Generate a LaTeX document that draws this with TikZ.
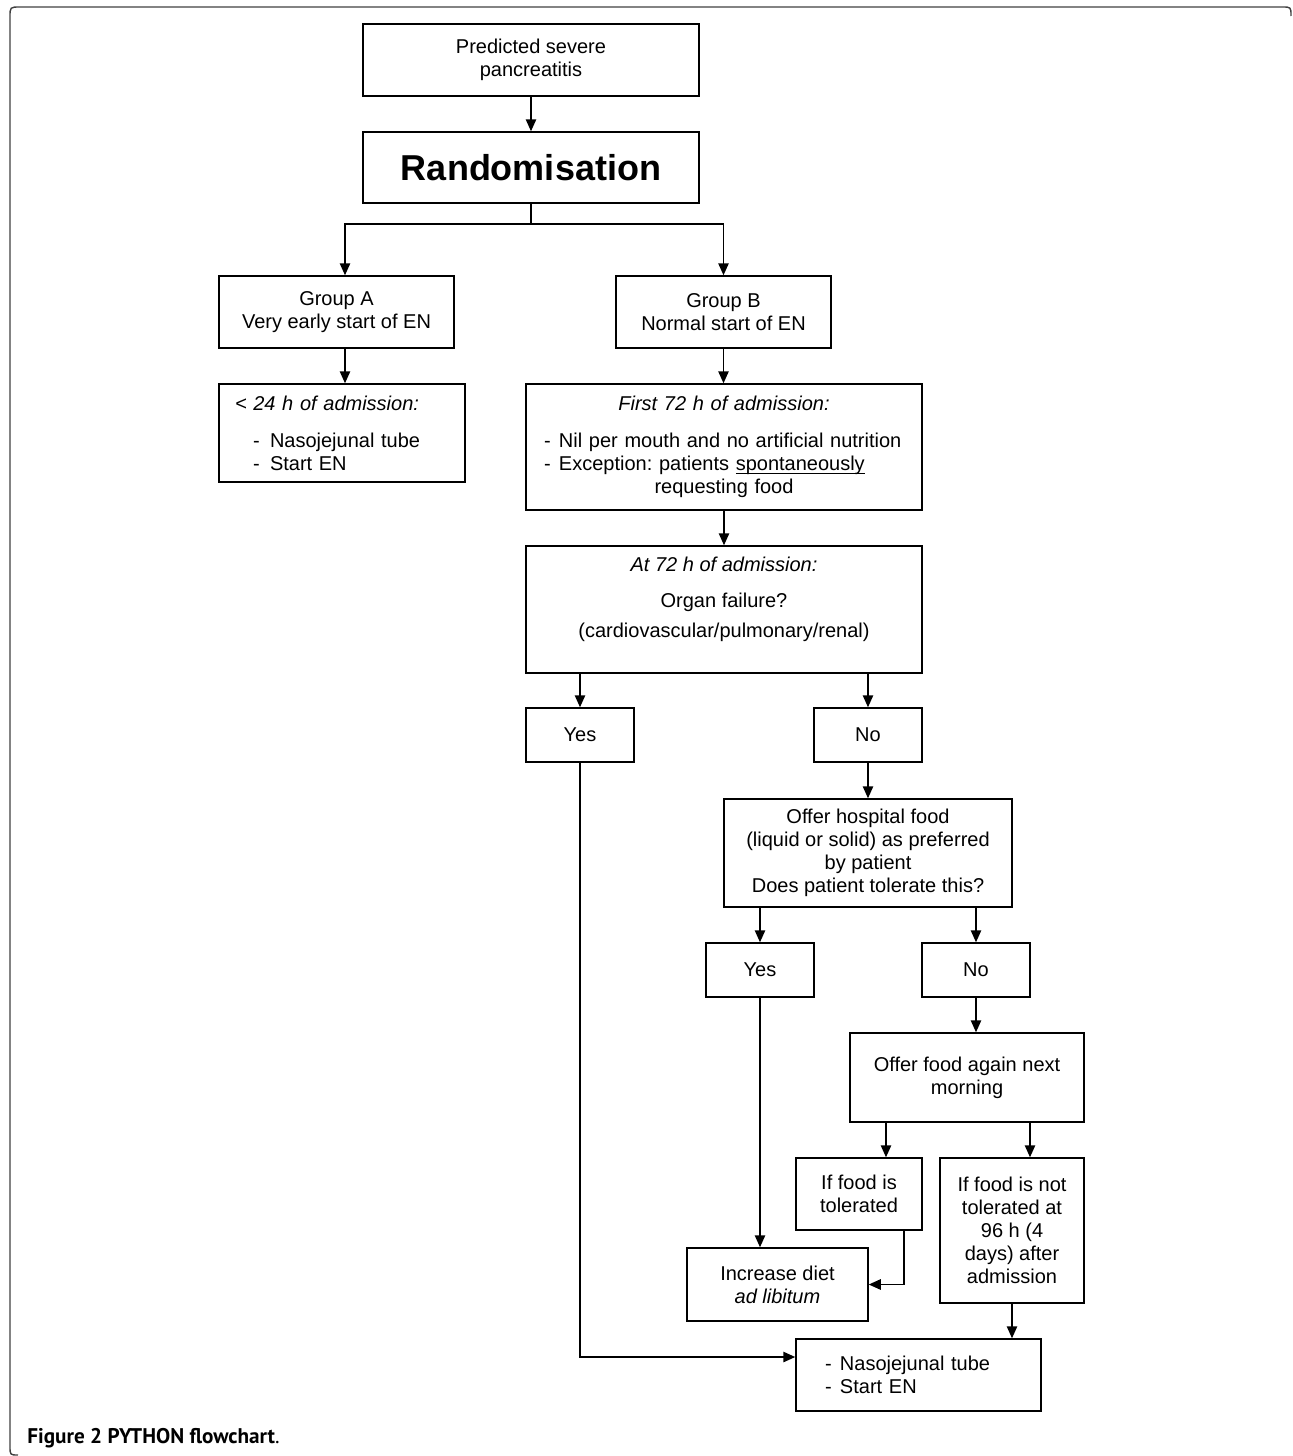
\documentclass[tikz,border=0pt]{standalone}
\usepackage{fontspec}
\setmainfont{Liberation Sans}
\newfontfamily\capfont{PT Sans}
\usetikzlibrary{arrows.meta}
\frenchspacing
\begin{document}
\begin{tikzpicture}
        [x=0.5pt, y=-0.5pt,
        box/.style={draw, line width=0.75pt, inner sep=0pt, align=center, font=\fontsize{10}{11.5}\selectfont},
        listbox/.style={box, align=left, inner ysep=0pt},
        answer/.style={box, minimum width=54pt, minimum height=27pt},
        edge/.style={line width=0.75pt, black},
        flow/.style={edge, -{Triangle[length=6pt, width=5.2pt]}},
        border/.style={line width=0.7pt, black!75}]

        \useasboundingbox (0,0) rectangle (1292,1456);

        % page frame and caption
        \draw[border] (1291,16) .. controls (1291,7) .. (1282,7) -- (20,7)
            .. controls (10,7) .. (10,17) -- (10,1446) .. controls (10,1455) .. (18,1455);
        \node[anchor=base west, inner sep=0pt, font=\capfont\fontsize{10.6}{12}\selectfont] (caption) at (27,1443)
            {\textbf{Figure 2 PYTHON flowchart}.};

        \node[box, minimum width=168pt, minimum height=36pt] (pred) at (531,60) {Predicted severe\\pancreatitis};
        \node[box, minimum width=168pt, minimum height=35.5pt, font=\fontsize{18}{21}\selectfont\bfseries] (rand) at (531,167.5) {Randomisation};
        \coordinate (split) at (531,224);

        \node[box, minimum width=117.5pt, minimum height=36pt] (grpA) at (336.5,312) {Group A\\Very early start of EN};
        \node[box, minimum width=107.5pt, minimum height=36pt] (grpB) at (723.5,312) {Group B\\Normal start of EN};

        \node[listbox, inner xsep=8pt, text width=107pt, minimum height=49pt] (lt24) at (342,433)
            {\textit{< 24 h of admission:}\\[7pt]
             \hspace*{9pt}\makebox[8.5pt][l]{-}Nasojejunal tube\\
             \hspace*{9pt}\makebox[8.5pt][l]{-}Start EN};
        \node[listbox, inner xsep=9pt, text width=180pt, minimum height=63pt] (first72) at (724,447)
            {\makebox[\linewidth]{\itshape First 72 h of admission:}\\[7pt]
             \makebox[7.5pt][l]{-}Nil per mouth and no artificial nutrition\\
             \makebox[7.5pt][l]{-}Exception: patients \underbar{spontaneously}\\
             \makebox[\linewidth]{requesting food}};
        \node[box, minimum width=198pt, minimum height=63.5pt] (at72) at (724,609.5)
            {\begin{tabular}{@{}c@{}}\textit{At 72 h of admission:}\\[6.5pt]
             Organ failure?\\[3.5pt]
             (cardiovascular/pulmonary/renal)\\[9.5pt]\end{tabular}};

        \node[answer] (yes1) at (580,735) {Yes};
        \node[answer] (no1) at (868,735) {No};
        \node[box, minimum width=144pt, minimum height=54pt] (offer) at (868,853)
            {Offer hospital food\\(liquid or solid) as preferred\\by patient\\Does patient tolerate this?};
        \node[answer] (yes2) at (760,970) {Yes};
        \node[answer] (no2) at (976,970) {No};
        \node[box, minimum width=117pt, minimum height=44.5pt] (again) at (967,1077.5) {Offer food again next\\morning};
        \node[box, minimum width=63pt, minimum height=36pt] (tol) at (859,1194) {If food is\\tolerated};
        \node[box, minimum width=72pt, minimum height=72.5pt] (nottol) at (1012,1230.5)
            {If food is not\\tolerated at\\96 h (4\\days) after\\admission};
        \node[box, minimum width=90.5pt, minimum height=36.5pt] (incr) at (777.5,1284.5) {Increase diet\\\textit{ad libitum}};
        \node[listbox, inner xsep=14.5pt, text width=93.5pt, minimum height=36pt] (nj) at (918.5,1375)
            {\makebox[7.5pt][l]{-}Nasojejunal tube\\
             \makebox[7.5pt][l]{-}Start EN};

        % randomisation into the two groups
        \draw[flow] (pred) -- (rand);
        \draw[edge] (rand) -- (split);
        \draw[flow] (split) -| ([xshift=4.25pt]grpA.north);
        \draw[flow] (split) -| (grpB.north);
        \draw[flow] ([xshift=4.25pt]grpA.south) -- ([xshift=4.25pt]grpA.south |- lt24.north);
        \draw[flow] (grpB.south) -- (grpB.south |- first72.north);
        \draw[flow] (first72) -- (at72);

        % organ failure decision
        \draw[flow] (yes1.north |- at72.south) -- (yes1);
        \draw[flow] (no1.north |- at72.south) -- (no1);
        \draw[flow] (no1) -- (offer);
        \draw[flow] (yes1.south) |- ([yshift=9pt]nj.west);

        % tolerance of hospital food
        \draw[flow] (yes2.north |- offer.south) -- (yes2);
        \draw[flow] (no2.north |- offer.south) -- (no2);
        \draw[flow] (yes2.south) -- (yes2.south |- incr.north);
        \draw[flow] (no2.south) -- (no2.south |- again.north);
        \draw[flow] ([xshift=-40.5pt]again.south) -- ([xshift=-40.5pt]again.south |- tol.north);
        \draw[flow] ([xshift=31.5pt]again.south) -- ([xshift=31.5pt]again.south |- nottol.north);
        \draw[flow] ([xshift=22.5pt]tol.south) |- (incr.east);
        \draw[flow] (nottol.south) -- (nottol.south |- nj.north);

    \end{tikzpicture}
\end{document}
